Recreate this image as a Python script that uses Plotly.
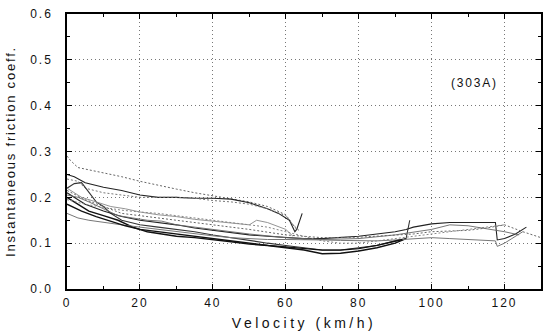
import plotly.graph_objects as go

# ---- data ----
run1_v = [0, 1, 3, 6, 10, 15, 20, 25, 30, 35, 40, 45, 50, 55, 60, 62, 64]
run1_mu = [0.29, 0.28, 0.265, 0.26, 0.252, 0.245, 0.235, 0.226, 0.218, 0.21, 0.203, 0.197, 0.19, 0.18, 0.162, 0.14, 0.125]

run2_v = [0, 2, 5, 10, 15, 20, 25, 30, 35, 40, 45, 50, 55, 58, 61, 62.5, 63, 64.5]
run2_mu = [0.25, 0.245, 0.232, 0.222, 0.215, 0.205, 0.2, 0.2, 0.198, 0.198, 0.196, 0.188, 0.175, 0.165, 0.15, 0.125, 0.13, 0.165]

run3_v = [0, 3, 5, 10, 15, 20, 25, 30, 35, 40, 45, 50, 55, 60, 63]
run3_mu = [0.24, 0.235, 0.22, 0.21, 0.205, 0.2, 0.2, 0.2, 0.198, 0.193, 0.19, 0.185, 0.175, 0.16, 0.13]

run4_v = [0, 2, 4, 6, 8, 10, 12, 15, 20, 25, 30, 35, 40, 45, 50, 55, 60, 65, 70, 75, 80, 85, 90, 93, 94]
run4_mu = [0.22, 0.23, 0.232, 0.21, 0.19, 0.18, 0.165, 0.15, 0.14, 0.135, 0.13, 0.125, 0.118, 0.112, 0.105, 0.1, 0.095, 0.09, 0.085, 0.085, 0.09, 0.095, 0.105, 0.11, 0.15]

run5_v = [0, 3, 6, 10, 14, 18, 22, 26, 30, 35, 40, 45, 50, 55, 60, 65, 70, 75, 80, 85, 90, 93]
run5_mu = [0.2, 0.185, 0.17, 0.16, 0.15, 0.135, 0.125, 0.12, 0.115, 0.112, 0.108, 0.103, 0.098, 0.095, 0.09, 0.085, 0.077, 0.078, 0.083, 0.09, 0.1, 0.11]

run6_v = [0, 3, 6, 10, 15, 20, 25, 30, 35, 40, 45, 50, 55, 60, 65, 70, 75, 80, 85, 90, 95, 100, 105, 110, 115, 117.5, 118, 120, 122, 125]
run6_mu = [0.165, 0.155, 0.15, 0.145, 0.14, 0.135, 0.13, 0.125, 0.12, 0.116, 0.112, 0.11, 0.108, 0.108, 0.108, 0.107, 0.106, 0.105, 0.105, 0.107, 0.11, 0.112, 0.11, 0.108, 0.107, 0.105, 0.093, 0.1, 0.11, 0.125]

run7_v = [0, 2, 5, 10, 15, 20, 25, 30, 35, 40, 45, 50, 55, 60, 65, 70, 75, 80, 85, 90, 93, 95, 100, 105, 110, 115, 117.5, 118, 120, 123, 126]
run7_mu = [0.21, 0.2, 0.185, 0.17, 0.158, 0.15, 0.145, 0.14, 0.133, 0.128, 0.122, 0.118, 0.115, 0.112, 0.11, 0.11, 0.112, 0.115, 0.12, 0.125, 0.13, 0.135, 0.142, 0.145, 0.145, 0.145, 0.145, 0.107, 0.11, 0.12, 0.135]

run8_v = [0, 5, 10, 15, 20, 30, 40, 50, 60, 70, 80, 90, 95, 100, 110, 115, 120, 125, 130]
run8_mu = [0.215, 0.195, 0.18, 0.165, 0.16, 0.15, 0.14, 0.13, 0.118, 0.112, 0.113, 0.118, 0.12, 0.125, 0.128, 0.133, 0.14, 0.125, 0.112]

run9_v = [0, 4, 8, 12, 16, 20, 25, 30, 35, 40, 45, 50, 52, 55, 60, 62]
run9_mu = [0.22, 0.2, 0.19, 0.18, 0.175, 0.168, 0.162, 0.158, 0.152, 0.148, 0.145, 0.14, 0.15, 0.145, 0.13, 0.115]

run10_v = [0, 5, 10, 15, 20, 25, 30, 35, 40, 45, 50, 55, 60, 65, 70, 75, 80, 85, 90, 95, 100, 105, 110, 115, 120]
run10_mu = [0.195, 0.185, 0.178, 0.172, 0.168, 0.165, 0.16, 0.155, 0.15, 0.145, 0.14, 0.135, 0.125, 0.115, 0.105, 0.1, 0.1, 0.105, 0.11, 0.115, 0.12, 0.125, 0.13, 0.135, 0.14]

run11_v = [0, 4, 8, 12, 16, 20, 25, 30, 35, 40, 45, 50, 55, 60, 65, 70, 75, 80, 85, 88, 92]
run11_mu = [0.185, 0.17, 0.158, 0.148, 0.138, 0.13, 0.125, 0.12, 0.115, 0.11, 0.105, 0.1, 0.095, 0.092, 0.088, 0.085, 0.085, 0.088, 0.095, 0.1, 0.108]

run12_v = [0, 3, 6, 10, 14, 18, 22, 26, 30, 40, 50, 60, 70, 80, 90, 100, 105, 110, 115, 120, 124]
run12_mu = [0.205, 0.2, 0.19, 0.175, 0.16, 0.155, 0.15, 0.148, 0.14, 0.13, 0.12, 0.112, 0.108, 0.11, 0.118, 0.13, 0.14, 0.138, 0.132, 0.125, 0.118]

runs = [
    (run1_v, run1_mu, "#666666", "2px,2px", 1.0),
    (run2_v, run2_mu, "#222222", "solid", 1.1),
    (run3_v, run3_mu, "#777777", "2px,2px", 1.0),
    (run4_v, run4_mu, "#333333", "solid", 1.1),
    (run5_v, run5_mu, "#111111", "solid", 1.4),
    (run6_v, run6_mu, "#777777", "solid", 1.0),
    (run7_v, run7_mu, "#222222", "solid", 1.1),
    (run8_v, run8_mu, "#666666", "2px,2px", 1.0),
    (run9_v, run9_mu, "#888888", "solid", 0.9),
    (run10_v, run10_mu, "#888888", "2px,2px", 1.0),
    (run11_v, run11_mu, "#111111", "solid", 1.3),
    (run12_v, run12_mu, "#666666", "solid", 0.9),
]

x_ticks = [0, 20, 40, 60, 80, 100, 120]
y_ticks = [0.0, 0.1, 0.2, 0.3, 0.4, 0.5, 0.6]
label_text = "(303A)"
x_title = "Velocity (km/h)"
y_title = "Instantaneous friction coeff."

FONT = "Liberation Sans, Arial"


def spaced(s, px):
    return f'<span style="letter-spacing:{px}px">{s}</span>'


fig = go.Figure()
for v, mu, col, dash, w in runs:
    fig.add_trace(go.Scatter(x=v, y=mu, mode="lines",
                             line=dict(color=col, width=w, dash=dash),
                             showlegend=False, hoverinfo="skip"))

fig.add_annotation(x=111.7, y=0.45, text=spaced(label_text, 1.8), showarrow=False,
                   font=dict(family=FONT, size=12, color="#111111"))

font_main = dict(family=FONT, size=12, color="#111111")

fig.update_xaxes(range=[0, 130], tickvals=x_ticks,
                 ticktext=[spaced(str(t), 2) for t in x_ticks],
                 ticks="inside", ticklen=5, tickcolor="black",
                 minor=dict(tickvals=list(range(10, 131, 20)), ticks="inside",
                            ticklen=3, tickcolor="black", showgrid=False),
                 showline=True, linecolor="black", linewidth=1.5, mirror="ticks",
                 showgrid=True, gridcolor="#777777", griddash="1px,3px", gridwidth=1,
                 zeroline=False, tickfont=font_main, ticklabelstandoff=2,
                 title=dict(text=spaced(x_title, 3.5), font=dict(family=FONT, size=14, color="#111111"), standoff=9))

fig.update_yaxes(range=[0, 0.6], tickvals=y_ticks,
                 ticktext=[spaced(f"{t:.1f}", 2) for t in y_ticks],
                 ticks="inside", ticklen=5, tickcolor="black",
                 minor=dict(tickvals=[0.05, 0.15, 0.25, 0.35, 0.45, 0.55], ticks="inside",
                            ticklen=3, tickcolor="black", showgrid=False),
                 showline=True, linecolor="black", linewidth=1.5, mirror="ticks",
                 showgrid=True, gridcolor="#777777", griddash="1px,3px", gridwidth=1,
                 zeroline=False, tickfont=font_main, ticklabelstandoff=10,
                 title=dict(text=spaced(y_title, 1.8), font=dict(family=FONT, size=13, color="#111111"), standoff=12))

fig.update_layout(width=546, height=332, margin=dict(l=67, r=3, t=14, b=43),
                  paper_bgcolor="white", plot_bgcolor="white")

fig.write_html("out.html")
